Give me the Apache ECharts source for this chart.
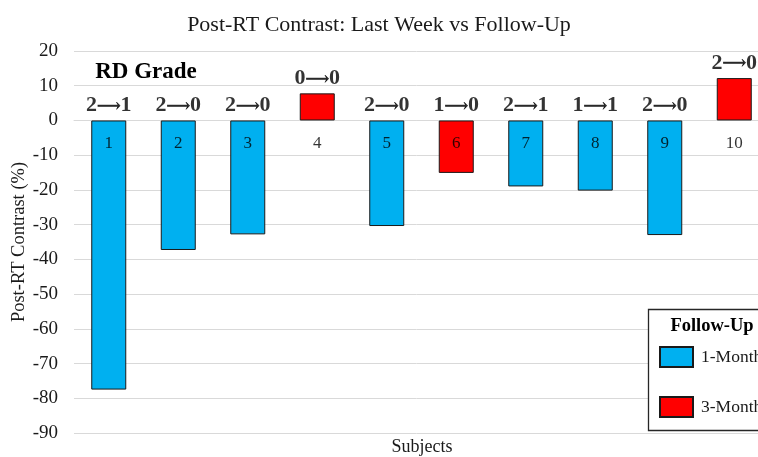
<!DOCTYPE html>
<html>
<head>
<meta charset="utf-8">
<script src="https://cdn.jsdelivr.net/npm/echarts@6/dist/echarts.min.js"></script>
<style>html,body{margin:0;padding:0;background:#fff}#c{width:758px;height:457px}</style>
</head>
<body>
<div id="c"></div>
<script>
const subjects = ['1','2','3','4','5','6','7','8','9','10'];
const contrast = [-77.5, -37.3, -32.8, 7.8, -30.4, -15.1, -19.0, -20.2, -33.0, 12.2];
const followUp = ['1-Month','1-Month','1-Month','3-Month','1-Month','3-Month','1-Month','1-Month','1-Month','3-Month'];
const gradeBefore = ['2','2','2','0','2','1','2','1','2','2'];
const gradeAfter  = ['1','0','0','0','0','0','1','1','0','0'];
const yTicks = {min: -90, max: 20, interval: 10};

const FONT = '"Liberation Serif", "Times New Roman", serif';
const chart = echarts.init(document.getElementById('c'));

const oneMonth = contrast.map((v, i) => followUp[i] === '1-Month' ? v : '-');
const threeMonth = contrast.map((v, i) => followUp[i] === '3-Month' ? v : '-');

chart.setOption({
  animation: false,
  backgroundColor: '#fff',
  title: {
    text: 'Post-RT Contrast: Last Week vs Follow-Up',
    left: 'center', top: 9,
    textStyle: {fontFamily: FONT, fontSize: 22, fontWeight: 'normal', color: '#1a1a1a'}
  },
  grid: {left: 74, top: 51, width: 695, height: 382, containLabel: false, outerBoundsMode: 'none'},
  legend: {
    data: ['1-Month', '3-Month'],
    orient: 'vertical', left: 654, top: 341,
    itemWidth: 33, itemHeight: 20, itemGap: 28,
    icon: 'rect',
    textStyle: {fontFamily: FONT, fontSize: 17.5, color: '#1a1a1a', padding: [0, 0, 0, 3]},
    z: 20
  },
  xAxis: {
    type: 'category', data: subjects,
    axisLine: {onZero: true, lineStyle: {color: '#d9d9d9', width: 1}},
    axisTick: {show: false},
    axisLabel: {show: false}
  },
  yAxis: {
    type: 'value', min: yTicks.min, max: yTicks.max, interval: yTicks.interval,
    name: 'Post-RT Contrast (%)', nameLocation: 'middle', nameGap: 45, nameMoveOverlap: false,
    nameTextStyle: {fontFamily: FONT, fontSize: 18.5, color: '#1a1a1a'},
    axisLine: {show: false}, axisTick: {show: false},
    axisLabel: {fontFamily: FONT, fontSize: 19, color: '#1a1a1a', margin: 16},
    splitLine: {lineStyle: {color: '#d9d9d9', width: 1}}
  },
  graphic: [
    {type: 'rect', z: 10, shape: {x: 648.5, y: 309.5, width: 130, height: 121},
     style: {fill: '#fff', stroke: '#262626', lineWidth: 1.3}},
    {type: 'text', z: 11, x: 712, y: 326,
     style: {text: 'Follow-Up', font: 'bold 18.5px ' + FONT, fill: '#000', align: 'center', verticalAlign: 'middle'}},
    {type: 'text', z: 11, x: 146, y: 72,
     style: {text: 'RD Grade', font: 'bold 23px ' + FONT, fill: '#000', align: 'center', verticalAlign: 'middle'}},
    {type: 'text', z: 11, x: 422, y: 447,
     style: {text: 'Subjects', font: '18px ' + FONT, fill: '#1a1a1a', align: 'center', verticalAlign: 'middle'}}
  ],
  series: [
    {name: '1-Month', type: 'bar', stack: 's', barWidth: 35, data: oneMonth,
     itemStyle: {color: '#00B0F0', borderColor: '#1a1a1a', borderWidth: 1}},
    {name: '3-Month', type: 'bar', stack: 's', barWidth: 35, data: threeMonth,
     itemStyle: {color: '#FF0000', borderColor: '#1a1a1a', borderWidth: 1}},
    {name: 'num', type: 'scatter', symbolSize: 0.1, z: 5, silent: true,
     itemStyle: {color: 'rgba(0,0,0,0)'},
     data: subjects.map((s, i) => [i, 0]),
     label: {show: true, position: 'bottom', distance: 15,
       formatter: p => subjects[p.dataIndex],
       fontFamily: FONT, fontSize: 17, color: '#000'}},
    {name: 'grade', type: 'scatter', symbolSize: 0.1, z: 5, silent: true,
     itemStyle: {color: 'rgba(0,0,0,0)'},
     data: contrast.map((v, i) => [i, Math.max(v, 0)]),
     label: {show: true, position: 'top', distance: 4,
       formatter: p => '{d|' + gradeBefore[p.dataIndex] + '}{a|⟶}{d|' + gradeAfter[p.dataIndex] + '}',
       rich: {
         d: {fontFamily: FONT, fontSize: 22, fontWeight: 'bold', color: '#000'},
         a: {fontFamily: '"DejaVu Serif"', fontSize: 16.5, fontWeight: 'normal', color: '#000',
             textBorderColor: '#000', textBorderWidth: 0.7, padding: [2, 0, 0, 0]}
       }}}
  ]
});
</script>
</body>
</html>
